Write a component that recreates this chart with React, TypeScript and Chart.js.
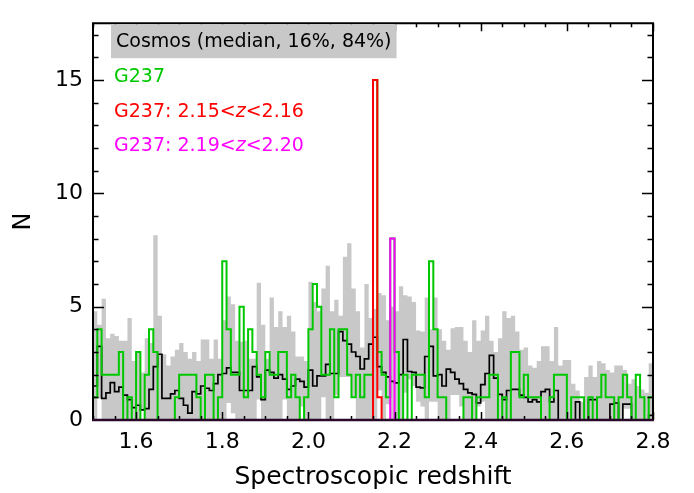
import { useEffect, useRef } from 'react';
import { Chart, registerables } from 'chart.js';

Chart.register(...registerables);

const FONT = '"DejaVu Sans", sans-serif';
const GRAY = '#c8c8c8';
const GREEN = '#00c800';
const RED = '#ff0000';
const MAGENTA = '#ff00ff';

// histogram bins: left edge of first bin and bin width
const BIN_START = 1.5;
const BIN_WIDTH = 0.01;

// Cosmos 16% percentile per bin (1.50 ... 2.79)
const cosmosLow = [
  0, 0.95, 0, 0, 0, 0, 0, 0, 0, 0,
  0, 0.4, 0, 0, 0, 0, 0, 0, 0, 0,
  0, 0, 0, 0, 0, 0, 0, 0, 0, 0,
  0, 0.75, 0.3, 0, 0, 0, 0, 0, 0.9, 0,
  0, 0, 0, 0, 0.9, 0, 0, 0, 0.6, 0,
  0, 0, 0, 1.0, 0, 0, 1.1, 1.9, 1.9, 1.9,
  1.0, 0, 0, 0, 0, 0, 1.3, 0, 0.7, 0,
  0, 0, 1.2, 1.8, 1.5, 0.8, 0.6, 0, 0.8, 0.8,
  0, 0, 0, 1.1, 1.1, 0.6, 0, 0, 0, 0.6,
  0.8, 0, 0, 0, 0, 0, 0, 0, 0, 0,
  0, 0, 0, 0, 0, 0, 0, 0, 0, 0,
  0, 0, 0, 0, 0, 0, 0, 0, 0, 0,
  0, 0, 0, 0.5, 0.5, 0, 0, 0, 0, 0,
];

// Cosmos 84% percentile per bin
const cosmosHigh = [
  4.8, 4.2, 5.35, 3.6, 3.8, 3.7, 3.5, 3.5, 4.5, 2.6,
  3.0, 2.1, 3.6, 3.4, 8.15, 4.6, 2.9, 2.4, 2.8, 3.1,
  3.4, 3.0, 2.7, 3.0, 2.6, 3.55, 3.55, 2.7, 3.55, 2.7,
  4.4, 5.45, 5.1, 3.5, 3.45, 3.5, 2.7, 2.7, 6.05, 4.2,
  2.7, 5.4, 4.1, 4.8, 4.1, 4.6, 3.9, 2.8, 2.8, 2.6,
  6.1, 5.2, 4.8, 5.8, 6.8, 4.8, 5.3, 4.6, 7.2, 7.8,
  5.8, 4.8, 3.2, 6.0, 4.5, 4.9, 5.6, 5.5, 4.4, 5.0,
  4.8, 5.9, 5.5, 5.45, 5.2, 3.95, 3.9, 5.4, 4.0, 5.4,
  4.0, 3.5, 3.1, 4.05, 4.1, 4.1, 3.5, 3.0, 4.4, 3.5,
  3.95, 4.6, 3.5, 3.0, 3.6, 4.8, 4.5, 4.6, 3.9, 3.1,
  3.2, 2.4, 2.3, 2.6, 3.25, 3.25, 2.6, 4.1, 2.4, 2.65,
  2.65, 1.6, 1.3, 0.8, 1.9, 2.4, 1.9, 2.6, 2.5, 2.2,
  2.1, 2.4, 2.4, 2.2, 1.6, 1.8, 1.5, 1.35, 1.2, 2.5,
];

// Cosmos median per bin
const cosmosMedian = [
  1.5, 3.25, 0.95, 1.2, 1.65, 1.25, 1.45, 1.1, 0.9, 0.55,
  0.65, 0.45, 0.5, 1.35, 2.35, 2.9, 0.95, 0.95, 1.15, 1.3,
  0.95, 0.65, 0.3, 1.25, 1.15, 1.5, 1.4, 1.3, 1.6, 2.0,
  2.05, 2.3, 2.1, 2.1, 1.3, 1.3, 1.3, 2.35, 1.9, 0.9,
  2.2, 2.1, 1.85, 2.0, 1.8, 1.35, 1.5, 1.8, 1.7, 1.45,
  2.2, 1.5, 1.95, 1.95, 2.45, 2.05, 2.05, 3.9, 3.5, 3.35,
  3.0, 2.8, 2.25, 2.7, 3.35, 3.65, 2.35, 2.1, 1.9, 1.7,
  1.64, 2.0, 3.55, 2.14, 2.1, 1.45, 1.42, 2.8, 3.25, 1.95,
  2.0, 1.5, 2.24, 2.1, 1.8, 1.6, 1.35, 1.2, 1.13, 0.75,
  1.56, 2.05, 2.85, 1.85, 1.13, 0.9, 1.3, 1.35, 1.35, 1.1,
  1.0, 0.8, 0.9, 0.8, 1.25, 1.35, 0.8, 1.3, 0, 0,
  0, 0, 0.8, 0, 0, 0.9, 0.9, 0, 0, 0,
  0.7, 0.75, 0, 0.7, 0.7, 0, 0, 0, 0, 0.2,
];

// G237 counts per bin
const g237Counts = [
  1, 4, 2, 2, 2, 2, 3, 0, 1, 0,
  3, 0, 2, 4, 3, 0, 0, 0, 0, 1,
  2, 2, 2, 2, 1, 0, 2, 2, 0, 1,
  7, 4, 2, 2, 5, 1, 4, 3, 2, 1,
  3, 2, 2, 3, 3, 1, 2, 1, 0, 1,
  4, 6, 5, 2, 2, 4, 1, 4, 4, 2,
  1, 2, 1, 2, 2, 15, 3, 2, 1, 8,
  3, 0, 2, 0, 2, 2, 2, 1, 7, 4,
  1, 1, 0, 0, 0, 0, 1, 1, 0, 1,
  1, 1, 2, 2, 0, 1, 0, 3, 3, 1,
  2, 1, 1, 1, 0, 0, 1, 2, 2, 2,
  0, 1, 1, 1, 0, 1, 0, 1, 2, 1,
  1, 0, 1, 2, 1, 0, 2, 1, 0, 1,
];

// G237 subset 2.15<z<2.16
const redBinStarts = [2.15, 2.16];
const redCounts = [15, 1];
// G237 subset 2.19<z<2.20
const magentaBinStarts = [2.19];
const magentaCounts = [8];

const xTicks = [1.6, 1.8, 2.0, 2.2, 2.4, 2.6, 2.8];
const yTicks = [0, 5, 10, 15];

const legendCosmos = 'Cosmos (median, 16%, 84%)';
const legendG237 = 'G237';
const legendRed = ['G237: 2.15<', 'z', '<2.16'];
const legendMagenta = ['G237: 2.19<', 'z', '<2.20'];

const idlPlugin = {
  id: 'idlAxes',
  afterDatasetsDraw(chart: any) {
    const { ctx, chartArea, scales } = chart;
    const { left, right, top, bottom } = chartArea;
    const xs = scales.x;
    const ys = scales.y;
    ctx.save();
    ctx.strokeStyle = '#000';
    ctx.lineWidth = 1.5;
    ctx.beginPath();
    for (let k = 30; k <= 56; k++) {
      const v = k * 0.05;
      const px = Math.round(xs.getPixelForValue(v)) + 0.5;
      const major = k % 4 === 0;
      const len = major ? 8 : 4;
      ctx.moveTo(px, bottom);
      ctx.lineTo(px, bottom - len);
      ctx.moveTo(px, top);
      ctx.lineTo(px, top + len);
    }
    for (let v = 1; v <= 17; v++) {
      const py = Math.round(ys.getPixelForValue(v)) + 0.5;
      const major = v % 5 === 0;
      const len = major ? 11 : 5.5;
      ctx.moveTo(left, py);
      ctx.lineTo(left + len, py);
      ctx.moveTo(right, py);
      ctx.lineTo(right - len, py);
    }
    ctx.stroke();
    ctx.lineWidth = 2;
    ctx.beginPath();
    ctx.moveTo(left, bottom);
    ctx.lineTo(left, top);
    ctx.lineTo(right, top);
    ctx.lineTo(right, bottom);
    ctx.stroke();
    // bottom axis (overlaid with the zero-level histogram lines)
    ctx.strokeStyle = '#2a082a';
    ctx.lineWidth = 2.5;
    ctx.beginPath();
    ctx.moveTo(left - 1, bottom);
    ctx.lineTo(right + 1, bottom);
    ctx.stroke();

    // legend
    const lx = left + 21;
    ctx.font = `19px ${FONT}`;
    ctx.textBaseline = 'middle';
    ctx.textAlign = 'left';
    const w = ctx.measureText(legendCosmos).width;
    ctx.fillStyle = GRAY;
    ctx.fillRect(left + 18, top + 1, w + 10, 34);
    ctx.fillStyle = '#000';
    ctx.fillText(legendCosmos, lx + 2, top + 19);
    ctx.fillStyle = GREEN;
    ctx.fillText(legendG237, lx, top + 54);
    const drawZ = (parts: string[], y: number, color: string) => {
      ctx.fillStyle = color;
      let x = lx;
      ctx.font = `19px ${FONT}`;
      ctx.fillText(parts[0], x, y);
      x += ctx.measureText(parts[0]).width;
      ctx.font = `italic 19px ${FONT}`;
      ctx.fillText(parts[1], x, y);
      x += ctx.measureText(parts[1]).width;
      ctx.font = `19px ${FONT}`;
      ctx.fillText(parts[2], x, y);
    };
    drawZ(legendRed, top + 89, RED);
    drawZ(legendMagenta, top + 123, MAGENTA);
    ctx.restore();
  },
};

export default function App() {
  const ref = useRef<HTMLCanvasElement>(null);

  useEffect(() => {
    const canvas = ref.current;
    if (!canvas) return;
    const n = cosmosHigh.length;
    const edges = Array.from({ length: n + 1 }, (_, i) => Math.round((BIN_START + i * BIN_WIDTH) * 1000) / 1000);
    const steps = (vals: number[]) =>
      vals.map((v, i) => ({ x: edges[i], y: v })).concat([{ x: edges[n], y: vals[n - 1] }]);
    const sparse = (starts: number[], counts: number[]) =>
      edges.slice(0, n).map((e) => {
        const k = starts.findIndex((s) => Math.abs(s - e) < 1e-6);
        return k >= 0 ? counts[k] : 0;
      });

    const lineBase = { stepped: true, pointRadius: 0, pointHoverRadius: 0, fill: false, tension: 0 };

    const chart = new Chart(canvas, {
      type: 'line',
      data: {
        datasets: [
          { ...lineBase, label: 'low', data: steps(cosmosLow), borderColor: 'rgba(0,0,0,0)', borderWidth: 1, order: 6 },
          {
            ...lineBase,
            label: 'high',
            data: steps(cosmosHigh),
            borderColor: 'rgba(0,0,0,0)',
            borderWidth: 1,
            backgroundColor: GRAY,
            fill: '-1',
            order: 5,
          },
          { ...lineBase, label: 'median', data: steps(cosmosMedian), borderColor: '#000', borderWidth: 1.7, order: 4 },
          { ...lineBase, label: 'G237', data: steps(g237Counts), borderColor: GREEN, borderWidth: 2, order: 3 },
          { ...lineBase, label: 'red', data: steps(sparse(redBinStarts, redCounts)), borderColor: RED, borderWidth: 2, order: 2 },
          {
            ...lineBase,
            label: 'magenta',
            data: steps(sparse(magentaBinStarts, magentaCounts)),
            borderColor: MAGENTA,
            borderWidth: 2,
            order: 1,
          },
        ] as any,
      },
      options: {
        responsive: false,
        animation: false,
        devicePixelRatio: 1,
        layout: { padding: { left: 0, right: 41, top: 14, bottom: 0 } },
        plugins: { legend: { display: false }, tooltip: { enabled: false } },
        scales: {
          x: {
            type: 'linear',
            min: 1.5,
            max: 2.8,
            grid: { display: false, drawTicks: false },
            border: { display: false },
            afterBuildTicks: (s: any) => {
              s.ticks = xTicks.map((v) => ({ value: v }));
            },
            afterFit: (s: any) => {
              s.height = 73;
            },
            ticks: {
              font: { family: FONT, size: 22 },
              color: '#000',
              padding: 9,
              maxRotation: 0,
              autoSkip: false,
              callback: (v: any) => Number(v).toFixed(1),
            },
            title: {
              display: true,
              text: 'Spectroscopic redshift',
              font: { family: FONT, size: 25 },
              color: '#000',
              padding: { top: 0, bottom: 1 },
            },
          },
          y: {
            type: 'linear',
            min: 0,
            max: 17.5,
            grid: { display: false, drawTicks: false },
            border: { display: false },
            afterBuildTicks: (s: any) => {
              s.ticks = yTicks.map((v) => ({ value: v }));
            },
            afterFit: (s: any) => {
              s.width = 93;
            },
            ticks: {
              font: { family: FONT, size: 22 },
              color: '#000',
              padding: 10,
              callback: (v: any) => String(v),
            },
            title: {
              display: true,
              text: 'N',
              font: { family: FONT, size: 24 },
              color: '#000',
              padding: { top: 9, bottom: 0 },
            },
          },
        },
      } as any,
      plugins: [idlPlugin],
    });
    return () => chart.destroy();
  }, []);

  return (
    <div style={{ position: 'fixed', left: 0, top: 0, width: 694, height: 493, background: '#fff' }}>
      <canvas ref={ref} width={694} height={493} style={{ width: 694, height: 493 }} />
    </div>
  );
}
